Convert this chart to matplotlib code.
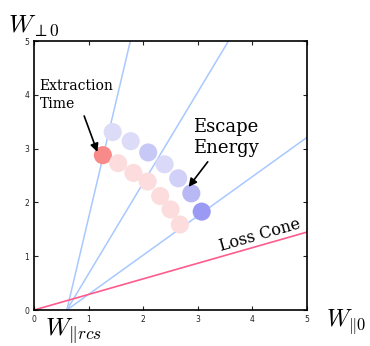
import numpy as np
import matplotlib
matplotlib.use("Agg")
import matplotlib.pyplot as plt

plt.rcParams['mathtext.fontset'] = 'cm'

# resonance lines from W_||rcs
x_rcs = 0.6
slopes = [4.3, 1.69, 0.73]
loss_cone_slope = 0.29

# extraction (red) and escape (blue) points
red_x = [1.26, 1.54, 1.82, 2.08, 2.31, 2.50, 2.67]
red_y = [2.88, 2.73, 2.55, 2.39, 2.12, 1.87, 1.59]
red_c = ['#f88a8a', '#fcdcdc', '#fcdcdc', '#fcdcdc', '#fcdcdc', '#fcdcdc', '#fcdcdc']

blue_x = [1.44, 1.77, 2.09, 2.39, 2.64, 2.88, 3.07]
blue_y = [3.31, 3.14, 2.93, 2.71, 2.45, 2.17, 1.83]
blue_c = ['#dcdcf8', '#dcdcf8', '#c8c8f6', '#dadaf8', '#d0d0f8', '#b8b8f4', '#9a9af5']

fig = plt.figure(figsize=(3.7, 3.46), dpi=100)
ax = fig.add_axes([0.092, 0.104, 0.738, 0.777])

xx = np.linspace(0, 5, 200)
for s in slopes:
    ax.plot(xx, s * (xx - x_rcs), color='#a8c8ff', lw=1.1, zorder=1)
ax.plot(xx, loss_cone_slope * xx, color='#ff5c8d', lw=1.2, zorder=1)

ax.scatter(red_x, red_y, s=170, c=red_c, edgecolors='none', zorder=2)
ax.scatter(blue_x, blue_y, s=170, c=blue_c, edgecolors='none', zorder=2)

ax.annotate('Extraction\nTime', xy=(red_x[0] - 0.1, red_y[0] + 0.06),
            xytext=(0.1, 4.0), fontsize=10, family='DejaVu Serif',
            ha='left', va='center', linespacing=1.3,
            arrowprops=dict(arrowstyle='-|>', color='black', lw=1.2,
                            mutation_scale=12, shrinkA=2, shrinkB=0))
ax.annotate('Escape\nEnergy', xy=(blue_x[5] - 0.05, blue_y[5] + 0.12),
            xytext=(2.92, 3.21), fontsize=13, family='DejaVu Serif',
            ha='left', va='center', linespacing=1.2,
            arrowprops=dict(arrowstyle='-|>', color='black', lw=1.2,
                            mutation_scale=12, shrinkA=2, shrinkB=0))
ax.text(4.14, 1.40, 'Loss Cone', fontsize=11.5, family='DejaVu Serif',
        rotation=16, ha='center', va='center', rotation_mode='anchor')

ax.set_xlim(0, 5)
ax.set_ylim(0, 5)
ax.set_xticks(range(6))
ax.set_yticks(range(6))
ax.tick_params(direction='in', top=True, right=True, labelsize=5.5,
               length=3, width=0.8, colors='#222222')
for sp in ax.spines.values():
    sp.set_linewidth(1.2)

fig.text(8 / 370, 1 - 26 / 346, r'$W_{\perp 0}$', fontsize=18, va='center')
fig.text(326 / 370, 1 - 322 / 346, r'$W_{\|0}$', fontsize=17, va='center')
fig.text(45 / 370, 1 - 331 / 346, r'$W_{\| rcs}$', fontsize=18, va='center')

fig.savefig('out.png', dpi=100)
